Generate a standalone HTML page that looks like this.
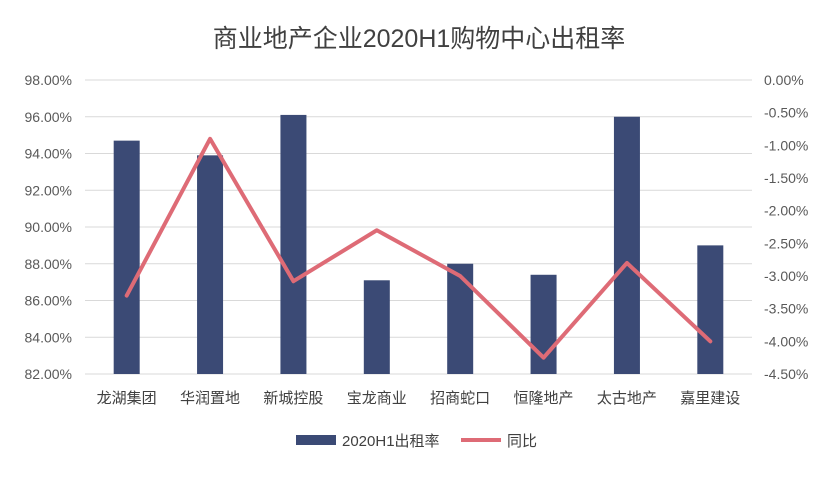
<!DOCTYPE html>
<html><head><meta charset="utf-8"><style>
body{margin:0;background:#fff;}
svg text{font-family:"Liberation Sans","Noto Sans CJK SC",sans-serif;}
</style></head><body>
<svg id="chart" width="838" height="472" xmlns="http://www.w3.org/2000/svg">
<rect width="838" height="472" fill="#fff"/>
<text x="419" y="47" text-anchor="middle" font-size="25" fill="#404040">商业地产企业2020H1购物中心出租率</text>
<g id="grid"></g><g id="bars"></g><g id="line"></g><g id="axes"></g>
<g>
<rect x="296" y="435" width="40" height="10" fill="#3b4a75"/>
<text x="342" y="446" font-size="15" fill="#404040">2020H1出租率</text>
<line x1="461" y1="440" x2="501" y2="440" stroke="#de6b76" stroke-width="4"/>
<text x="507" y="446" font-size="15" fill="#404040">同比</text>
</g>
</svg>
<script>
const categories=["龙湖集团","华润置地","新城控股","宝龙商业","招商蛇口","恒隆地产","太古地产","嘉里建设"];
const occupancy=[94.7,93.9,96.1,87.1,88.0,87.4,96.0,89.0];
const yoy=[-3.3,-0.9,-3.08,-2.3,-3.0,-4.25,-2.8,-4.0];
const leftTicks=[82,84,86,88,90,92,94,96,98];
const rightTicks=[0,-0.5,-1,-1.5,-2,-2.5,-3,-3.5,-4,-4.5];
const NS="http://www.w3.org/2000/svg";
const X0=85,X1=752,Y0=80,Y1=374;
const yL=v=>Y1-(v-82)/(98-82)*(Y1-Y0);
const yR=v=>Y0+(0-v)/4.5*(Y1-Y0);
const bw=(X1-X0)/categories.length;
const xC=i=>X0+bw*(i+0.5);
function mk(tag,attrs,parent,txt){const e=document.createElementNS(NS,tag);for(const k in attrs)e.setAttribute(k,attrs[k]);if(txt!=null)e.textContent=txt;document.getElementById(parent).appendChild(e);return e;}
leftTicks.forEach(t=>{
 const g=mk('line',{x1:X0,x2:X1,y1:yL(t),y2:yL(t),stroke:'#d9d9d9','stroke-width':1},'grid');
 
 
 const l=mk('text',{x:72,y:yL(t)+5,'text-anchor':'end','font-size':14,fill:'#595959'},'axes',t.toFixed(2)+'%');
 
 
});
rightTicks.forEach(t=>{
 const l=mk('text',{x:764,y:yR(t)+5,'font-size':14,fill:'#595959'},'axes',t.toFixed(2)+'%');
 
 
});
categories.forEach((c,i)=>{
 const b=mk('rect',{x:xC(i)-13,y:yL(occupancy[i]),width:26,height:Y1-yL(occupancy[i]),fill:'#3b4a75'},'bars');
 
 
 const l=mk('text',{x:xC(i),y:403,'text-anchor':'middle','font-size':15,fill:'#404040'},'axes',c);
 
 
});
const p=mk('polyline',{points:yoy.map((v,i)=>xC(i)+','+yR(v)).join(' '),fill:'none',stroke:'#de6b76','stroke-width':4,'stroke-linejoin':'round','stroke-linecap':'round'},'line');


</script>
</body></html>
